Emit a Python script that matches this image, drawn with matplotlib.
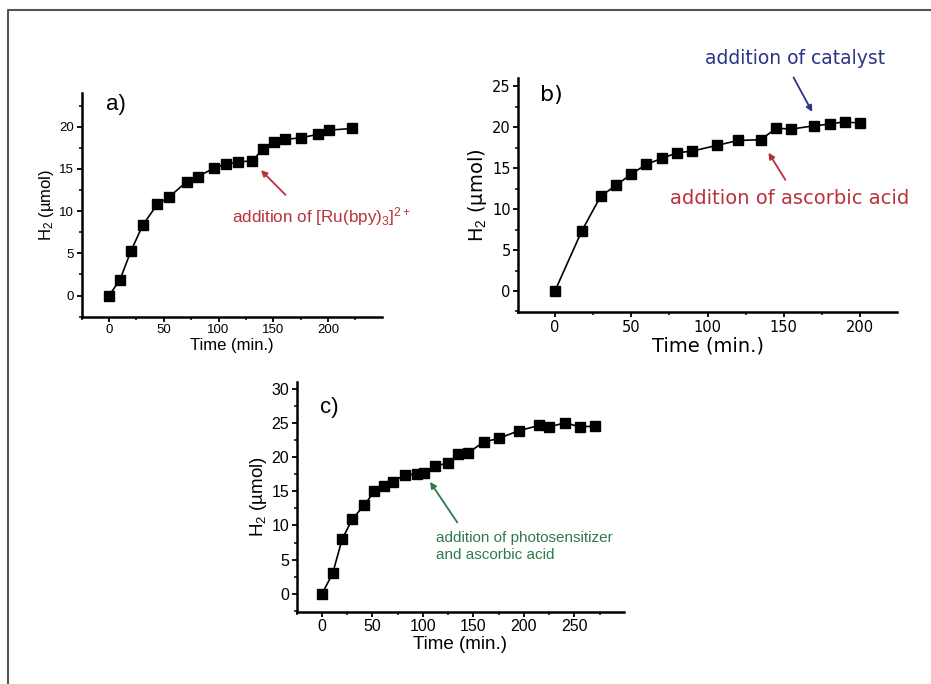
import numpy as np
import matplotlib
matplotlib.use("Agg")
import matplotlib.pyplot as plt
from matplotlib.ticker import MultipleLocator
from matplotlib.lines import Line2D

plt.rcParams['font.family'] = ['Liberation Sans', 'DejaVu Sans']
plt.rcParams['mathtext.fontset'] = 'custom'
plt.rcParams['mathtext.rm'] = 'Liberation Sans'
plt.rcParams['mathtext.it'] = 'Liberation Sans:italic'

# --- data ---
t_a = [0, 10, 20, 31, 44, 55, 71, 81, 96, 107, 118, 131, 141, 151, 161, 175, 191, 201, 222]
h_a = [0, 1.9, 5.3, 8.4, 10.8, 11.7, 13.5, 14.1, 15.1, 15.6, 15.8, 16.0, 17.4, 18.2, 18.5, 18.7, 19.1, 19.6, 19.8]

t_b = [0, 17.5, 30, 40, 50, 60, 70, 80, 90, 106, 120, 135, 145, 155, 170, 180, 190, 200]
h_b = [0, 7.3, 11.6, 12.9, 14.3, 15.5, 16.2, 16.9, 17.1, 17.8, 18.4, 18.5, 19.9, 19.8, 20.2, 20.4, 20.7, 20.5]

t_c = [0, 10.6, 20, 30, 42, 52, 61, 70, 82, 94, 101, 112, 125, 135, 145, 160, 175, 195, 215, 225, 241, 255, 270]
h_c = [0, 3.0, 8.0, 10.9, 13.0, 15.0, 15.7, 16.4, 17.35, 17.5, 17.6, 18.7, 19.1, 20.4, 20.6, 22.2, 22.7, 23.85, 24.6, 24.4, 25.0, 24.4, 24.5]

RED = '#b8323c'
BLUE = '#2a3585'
GREEN = '#2e7a4e'

fig = plt.figure(figsize=(9.31, 6.84), dpi=100)

# frame of the scanned page
fig.add_artist(Line2D([8 / 931, 8 / 931, 1.0], [0.0, 1 - 9.5 / 684, 1 - 9.5 / 684],
                      transform=fig.transFigure, color='#555555', lw=1.5))


def panel(rect, t, h, xlim, ylim, xmax_tick, ymax_tick, tick_fs, label_fs, tag, tag_xy,
          family=None):
    fam = family or ['Liberation Sans', 'DejaVu Sans']
    ax = fig.add_axes(rect)
    ax.plot(t, h, '-', color='black', lw=1.2, marker='s', ms=6.5, mfc='black', mec='black')
    ax.set_xlim(*xlim)
    ax.set_ylim(*ylim)
    ax.xaxis.set_minor_locator(MultipleLocator(25))
    ax.yaxis.set_minor_locator(MultipleLocator(2.5))
    ax.set_xticks(np.arange(0, xmax_tick + 1, 50))
    ax.set_yticks(np.arange(0, ymax_tick + 1, 5))
    for s in ['top', 'right']:
        ax.spines[s].set_visible(False)
    for s in ['left', 'bottom']:
        ax.spines[s].set_linewidth(1.8)
    ax.tick_params(which='major', direction='out', length=3.5, width=1.3, labelsize=tick_fs, pad=2)
    ax.tick_params(which='minor', direction='out', length=2.2, width=1.1)
    for lab in ax.get_xticklabels() + ax.get_yticklabels():
        lab.set_family(fam)
    ax.set_xlabel('Time (min.)', fontsize=label_fs, labelpad=1, family=fam)
    ax.set_ylabel('H$_2$ (\u00b5mol)', fontsize=label_fs, labelpad=2, family=fam)
    ax.text(tag_xy[0], tag_xy[1], tag, fontsize=16, ha='left', va='center', family=fam)
    return ax


# a)
ax_a = panel([0.0878, 0.537, 0.322, 0.327], t_a, h_a, (-25, 249), (-2.5, 24), 200, 20,
             9.5, 12, 'a)', (-3, 22.6))
ax_a.annotate('', xy=(137, 15.1), xytext=(163, 11.7),
              arrowprops=dict(arrowstyle='-|>', color=RED, lw=1.3, mutation_scale=9))
ax_a.text(112, 9.4, r'addition of [Ru(bpy)$_3$]$^{2+}$', color=RED, fontsize=12.3,
          ha='left', va='center')

# b) - scanned with wider lettering, DejaVu Sans comes closer
fam_b = ['DejaVu Sans']
ax_b = panel([0.5567, 0.5434, 0.4065, 0.3421], t_b, h_b, (-24, 224), (-2.6, 26), 200, 25,
             10.5, 14, 'b)', (-10, 24), family=fam_b)
ax_b.annotate('', xy=(169.5, 21.6), xytext=(155.5, 26.4),
              arrowprops=dict(arrowstyle='-|>', color=BLUE, lw=1.3, mutation_scale=9),
              annotation_clip=False)
ax_b.text(157.5, 28.4, 'addition of catalyst', color=BLUE, fontsize=13.5,
          ha='center', va='center', clip_on=False, family=fam_b)
ax_b.annotate('', xy=(139, 17.2), xytext=(152, 13.3),
              arrowprops=dict(arrowstyle='-|>', color=RED, lw=1.3, mutation_scale=9))
ax_b.text(153.5, 11.3, 'addition of ascorbic acid', color=RED, fontsize=14,
          ha='center', va='center', family=fam_b)

# c)
ax_c = panel([0.3187, 0.1057, 0.3515, 0.3363], t_c, h_c, (-25, 299), (-2.6, 31), 250, 30,
             11.5, 13.5, 'c)', (-2, 27.2))
ax_c.annotate('', xy=(105.5, 16.7), xytext=(135.5, 10.1),
              arrowprops=dict(arrowstyle='-|>', color=GREEN, lw=1.3, mutation_scale=9))
ax_c.text(113, 6.9, 'addition of photosensitizer\nand ascorbic acid', color=GREEN,
          fontsize=11, ha='left', va='center', linespacing=1.25)

fig.savefig('out.png', dpi=100)
